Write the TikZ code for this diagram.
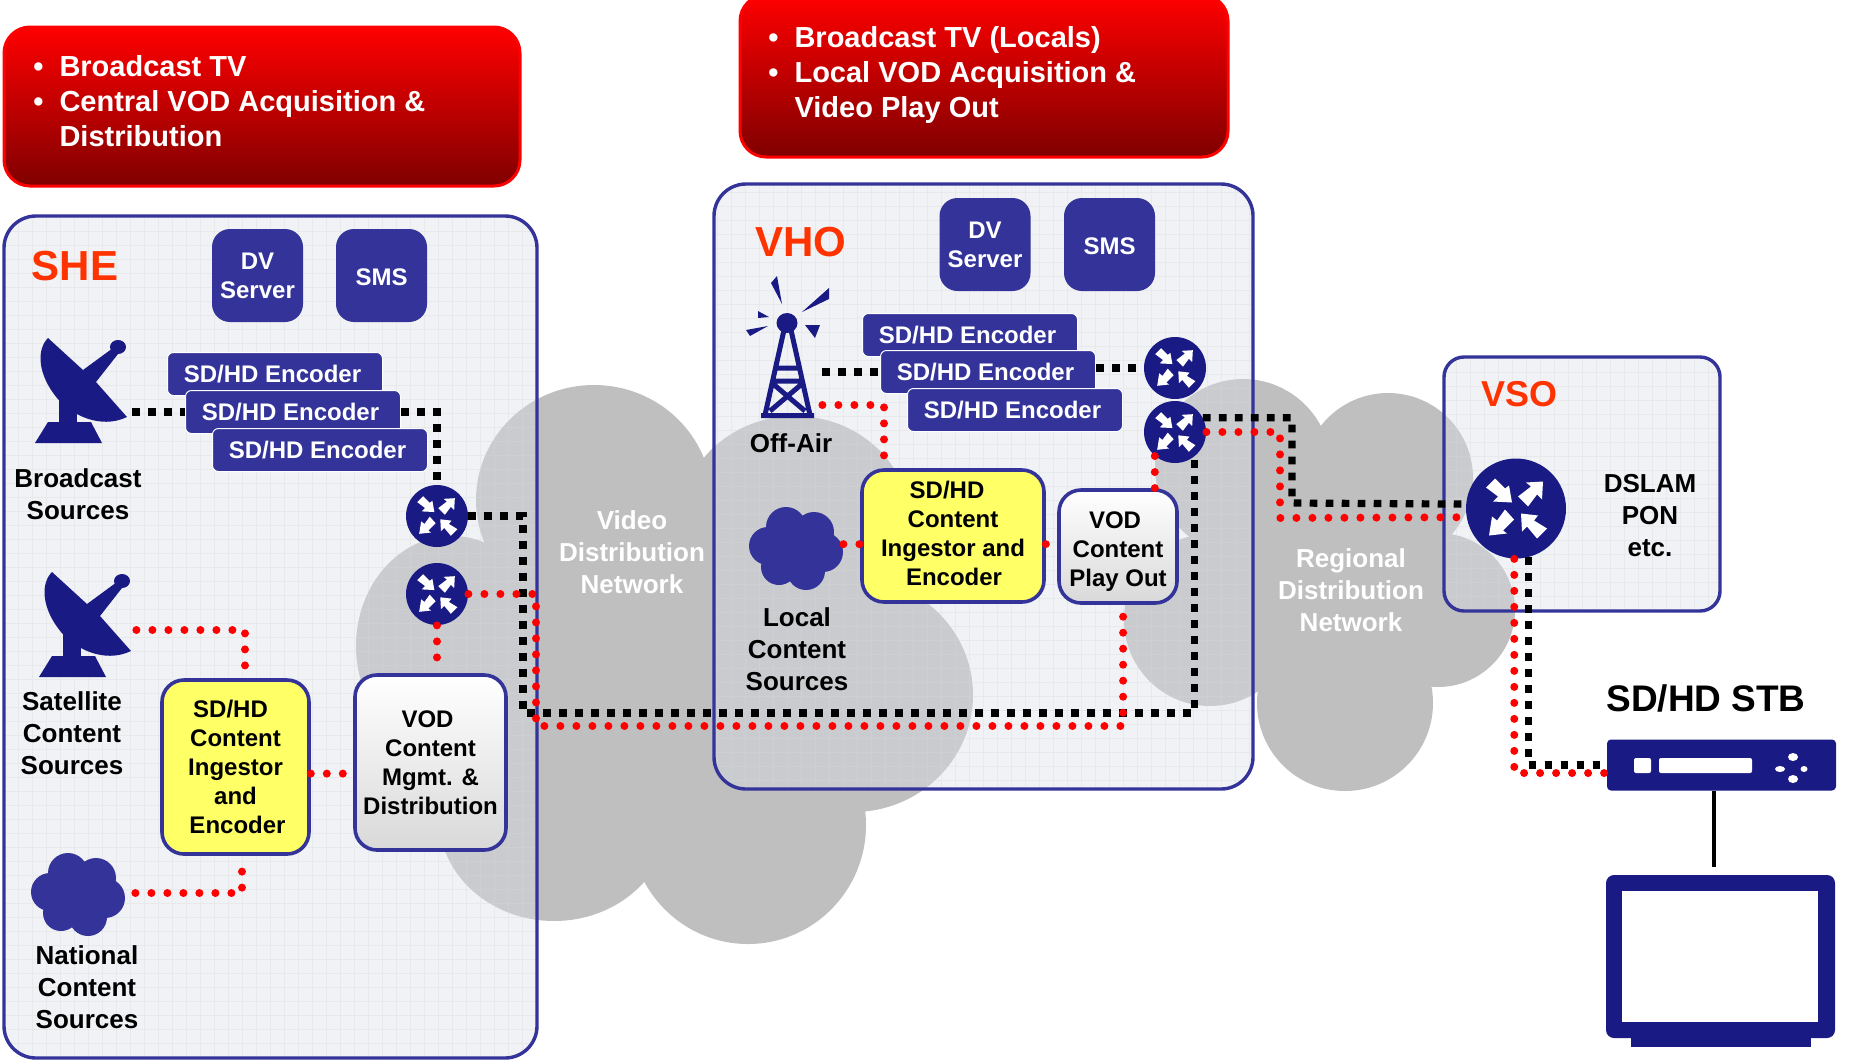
\documentclass[tikz,border=0pt]{standalone}
\usepackage{fontspec}
\setmainfont{Liberation Sans}
\usepackage{tikz}
\usetikzlibrary{shapes.geometric}

\definecolor{navy}{HTML}{1A1A85}
\definecolor{boxblue}{HTML}{333399}
\definecolor{cloudgray}{HTML}{BFBFBF}
\definecolor{panelfill}{RGB}{217,223,230}
\definecolor{hubred}{HTML}{FF3300}
\definecolor{ingestyellow}{HTML}{FFFF66}

\tikzset{
    panel/.style={draw=boxblue, line width=1.7pt, fill=panelfill, fill opacity=0.4, rounded corners=16pt,
        path picture={\draw[gray!30, draw opacity=0.35, line width=0.15pt, step=7pt] (path picture bounding box.south west) grid (path picture bounding box.north east);}},
    banner/.style={draw=red, line width=1.5pt, rounded corners=13pt, top color=red, middle color=red!88!black, bottom color=red!50!black},
    bannertxt/.style={text=white, align=left, anchor=west, inner sep=0pt, font=\bfseries\fontsize{14.5}{17.5}\selectfont},
    bluebox/.style={fill=boxblue, text=white, rounded corners=9pt, align=center, minimum width=45.5pt, minimum height=46.5pt, inner sep=0pt, font=\bfseries\fontsize{12}{14.5}\selectfont},
    encoder/.style={fill=boxblue, draw=white, line width=0.5pt, text=white, rounded corners=3pt, minimum width=107.5pt, minimum height=21.5pt, inner sep=0pt, execute at begin node={\kern-2.5pt}, font=\bfseries\fontsize{12}{14.5}\selectfont},
    ingest/.style={draw=boxblue, line width=1.8pt, fill=ingestyellow, rounded corners=11pt, align=center, inner sep=0pt, font=\bfseries\fontsize{12}{14.5}\selectfont},
    vodbox/.style={draw=boxblue, line width=1.8pt, top color=white, bottom color=gray!30, rounded corners=11pt, align=center, inner sep=0pt, font=\bfseries\fontsize{12}{14.5}\selectfont},
    router/.style={circle, fill=navy, inner sep=0pt, minimum size=31pt},
    icon/.style={inner sep=0pt},
    srctxt/.style={align=center, inner sep=0pt, font=\bfseries\fontsize{13}{16}\selectfont},
    nettxt/.style={srctxt, text=white},
    hubtxt/.style={text=hubred, inner sep=0pt, font=\bfseries\fontsize{21}{25}\selectfont},
    blackline/.style={line width=3.6pt, dash pattern=on 3.8pt off 4.2pt},
    redline/.style={red, line width=4pt, line cap=round, dash pattern=on 0pt off 8pt},
    rarrows/.pic={
        \fill[white] (-21,-30) -- (-11,-20) -- (-7,-23) -- (-4,-6) -- (-23,-7) -- (-18,-12) -- (-30,-21) -- cycle;
        \fill[white] (27,-27) -- (26,-9) -- (21,-14) -- (12,-2) -- (2,-12) -- (15,-22) -- (10,-26) -- cycle;
        \fill[white] (-27,27) -- (-24,8) -- (-19,12) -- (-11,1) -- (-2,11) -- (-13,22) -- (-9,25) -- cycle;
        \fill[white] (5,5) -- (22,7) -- (18,12) -- (31,20) -- (21,30) -- (11,18) -- (6,23) -- cycle;
    },
    satdish/.pic={
        \fill[navy] (-32,-52) .. controls (-44,-40) and (-42,-15) .. (-23,8) .. controls (-10,24) and (20,40) .. (47,27) -- (16,-8) -- (38,-36) -- (33,-42) -- (3,-20) -- cycle;
        \fill[navy] (38,-43) ellipse (8 and 7);
        \fill[navy] (-21,5) rectangle (-3,33);
        \fill[navy] (-32,32) -- (11,32) -- (22,53) -- (-45,53) -- cycle;
    },
    bluecloud/.pic={
        \foreach \cx/\cy/\cr in {-10/-21/20, 18/-16/20, 27/4/20, 10/23/19, -17/19/18, -28/-2/19, 0/0/26} {
            \fill[boxblue] (\cx,\cy) circle (\cr);
        }
    }
}

\begin{document}
\begin{tikzpicture}[x=0.5pt, y=-0.5pt]
    \useasboundingbox (0,0) rectangle (1850,1061);

    % network clouds
    \fill[cloudgray] (594,500) ellipse (118 and 115);
    \fill[cloudgray] (452,646) ellipse (96 and 110);
    \fill[cloudgray] (554,818) ellipse (115 and 103);
    \fill[cloudgray] (748,825) ellipse (118 and 119);
    \fill[cloudgray] (853,695) ellipse (120 and 117);
    \fill[cloudgray] (795,523) ellipse (115 and 107);
    \fill[cloudgray] (650,650) circle (170);

    \fill[cloudgray] (1243,467) circle (88);
    \fill[cloudgray] (1210,620) circle (86);
    \fill[cloudgray] (1345,703) circle (88);
    \fill[cloudgray] (1388,478) circle (85);
    \fill[cloudgray] (1438,610) circle (77);
    \fill[cloudgray] (1330,570) circle (120);

    \node[nettxt] (videonet) at (632,552) {Video\\Distribution\\Network};
    \node[nettxt] (regionnet) at (1351,590) {Regional\\Distribution\\Network};

    % sites
    \node[panel, minimum width=266.5pt, minimum height=421pt] (she) at (270.5,637) {};
    \node[panel, minimum width=269.5pt, minimum height=302.5pt] (vho) at (983.5,486.5) {};
    \node[panel, rounded corners=10pt, minimum width=138pt, minimum height=127pt] (vso) at (1582,484) {};

    \node[hubtxt] (shetxt) at (75,266) {SHE};
    \node[hubtxt] (vhotxt) at (801,242) {VHO};
    \node[hubtxt, font=\bfseries\fontsize{18}{22}\selectfont] (vsotxt) at (1519,394) {VSO};

    % banners
    \node[banner, minimum width=258pt, minimum height=79.5pt] (bannera) at (262,106.5) {};
    \node[banner, minimum width=244pt, minimum height=81pt] (bannerb) at (984,76) {};
    \node[bannertxt] (bannertxta) at (33,101) {\textbullet\hspace{8pt}Broadcast TV\\\textbullet\hspace{8pt}Central VOD Acquisition \&\\\hphantom{\textbullet}\hspace{8pt}Distribution};
    \node[bannertxt] (bannertxtb) at (768,74.5) {\textbullet\hspace{8pt}Broadcast TV (Locals)\\\textbullet\hspace{8pt}Local VOD Acquisition \&\\\hphantom{\textbullet}\hspace{8pt}Video Play Out};

    % SHE
    \node[bluebox] (dva) at (257.5,275.5) {DV\\Server};
    \node[bluebox] (smsa) at (381.5,275.5) {\rule{0pt}{10.4pt}SMS};
    \node[encoder] (enca1) at (275,374) {SD/HD Encoder};
    \node[encoder] (enca2) at (293,412) {SD/HD Encoder};
    \node[encoder] (enca3) at (320,450) {SD/HD Encoder};

    \node[icon, minimum width=52pt, minimum height=55pt] (bdish) at (80,390) {};
    \pic at (bdish) {satdish};
    \node[srctxt] (bdishtxt) at (78,494) {Broadcast\\Sources};
    \node[icon, minimum width=52pt, minimum height=55pt] (sdish) at (84,624) {};
    \pic at (sdish) {satdish};
    \node[srctxt] (sdishtxt) at (72,733) {Satellite\\Content\\Sources};
    \node[icon, minimum width=47pt, minimum height=41pt] (ncloud) at (78,894) {};
    \pic at (ncloud) {bluecloud};
    \node[srctxt] (ncloudtxt) at (87,987) {National\\Content\\Sources};

    \node[ingest, minimum width=73.5pt, minimum height=87pt] (inga) at (235.5,767) {SD/HD\hspace*{5pt}\\Content\hspace*{5pt}\\Ingestor\hspace*{3pt}\\and\hspace*{3pt}\\\hspace*{2pt}Encoder};
    \node[vodbox, minimum width=75.5pt, minimum height=87.5pt] (voda) at (430.5,762.5) {VOD\hspace*{3pt}\\Content\\Mgmt. \&\\Distribution};

    \node[router] (rta) at (437,516) {};
    \node[router] (rtb) at (437,594) {};

    % VHO
    \node[bluebox] (dvb) at (985,244.5) {DV\\Server};
    \node[bluebox] (smsb) at (1109.5,244.5) {\rule{0pt}{10.4pt}SMS};
    \node[encoder] (encb1) at (970,335) {SD/HD Encoder};
    \node[encoder] (encb2) at (988,372) {SD/HD Encoder};
    \node[encoder] (encb3) at (1015,410) {SD/HD Encoder};

    \node[icon, minimum width=35pt, minimum height=71pt] (tower) at (787,346) {};
    \fill[navy] (777,276) -- (771,283) -- (782,304) -- cycle;
    \fill[navy] (829,288) -- (829,299) -- (802,312) -- cycle;
    \fill[navy] (758,311) -- (769,317) -- (758,318) -- cycle;
    \fill[navy] (768,326) -- (746,330) -- (750,336) -- cycle;
    \fill[navy] (805,325) -- (820,325) -- (815,338) -- cycle;
    \fill[navy] (787,323) ellipse (10.5 and 10);
    \draw[navy, line width=2.5pt] (784,330) -- (765,415) (791,330) -- (810,415) (775,368) -- (800,368) (773,381) -- (802,381) (772,383) -- (805,411) (803,383) -- (770,411) (761,415.5) -- (814,415.5);
    \node[srctxt] (towertxt) at (791,443) {Off-Air};

    \node[icon, minimum width=47pt, minimum height=41pt] (lcloud) at (796,548) {};
    \pic at (lcloud) {bluecloud};
    \node[srctxt] (lcloudtxt) at (797,649) {Local\\Content\\Sources};

    \node[ingest, minimum width=91pt, minimum height=66pt] (ingb) at (953,536) {SD/HD\hspace*{6pt}\\Content\hspace*{6pt}\\Ingestor and\hspace*{2pt}\\\hspace*{1pt}Encoder\rule[-2.4pt]{0pt}{0pt}};
    \node[vodbox, minimum width=59pt, minimum height=56.5pt] (vodb) at (1118,546.5) {\rule{0pt}{13pt}VOD\hspace*{3pt}\\Content\\Play Out};

    \node[router] (rtc) at (1175,368) {};
    \node[router] (rtd) at (1175,432) {};

    % VSO
    \node[router, minimum size=50pt] (rte) at (1516,508.5) {};
    \node[srctxt] (dslamtxt) at (1650,516) {DSLAM\\PON\\etc.};

    \foreach \rt in {rta,rtb,rtc,rtd} {
        \pic[scale=0.66] at (\rt) {rarrows};
    }
    \pic at (rte) {rarrows};

    % home
    \node[srctxt, font=\bfseries\fontsize{18.5}{22}\selectfont] (stbtxt) at (1706,698) {SD/HD STB};
    \node[fill=navy, rounded corners=2pt, minimum width=114.5pt, minimum height=25.5pt, inner sep=0pt] (stb) at (1721.5,765) {};
    \fill[white, rounded corners=1pt] (1634,758) rectangle (1651,773);
    \fill[white, rounded corners=1pt] (1659,758) rectangle (1752,773);
    \fill[white] (1793,757) ellipse (5 and 4);
    \fill[white] (1793,779) ellipse (5 and 4);
    \fill[white] (1780,769) ellipse (5 and 3);
    \fill[white] (1804,769) ellipse (3.5 and 3);
    \node[fill=navy, minimum width=90pt, minimum height=5pt, inner sep=0pt] (tvfoot) at (1721,1042) {};
    \node[fill=navy, rounded corners=4pt, minimum width=114.5pt, minimum height=81.5pt, inner sep=0pt] (tv) at (1720.5,956.5) {};
    \node[fill=white, minimum width=98pt, minimum height=65.5pt, inner sep=0pt] (tvscreen) at (1720,956.5) {};
    \coordinate (ctv) at (1714,867);
    \draw[line width=2pt] (stb.south -| ctv) -- (ctv);

    % bends
    \coordinate (bda) at (523,713);
    \coordinate (bdb) at (1292,503);
    \coordinate (bdc) at (1280,518);
    \coordinate (bdd) at (884,405);
    \coordinate (bde) at (245,630);
    \coordinate (bdf) at (242,893);
    \coordinate (bdg) at (536,726);

    \draw[blackline] (bdish.east |- enca2.west) -- (enca2.west);
    \draw[blackline] (enca2.east) -| (rta.north);
    \draw[blackline] (rta.east) -| (bda) -| (rtd.-52);
    \draw[blackline] (rtd.27) -| (bdb) -- (rte.175);
    \draw[blackline] (rte.-76) |- (stb.west);
    \draw[blackline] (tower.east |- encb2.west) -- (encb2.west);
    \draw[blackline] (encb2.east |- rtc.west) -- (rtc.west);

    \draw[redline] (sdish.east |- bde) -- (bde) -- (bde |- inga.north);
    \draw[redline] ([xshift=5pt]ncloud.east |- bdf) -- (bdf) -- (bdf |- inga.south);
    \draw[redline] (inga.-5) -- (voda.west |- inga.-5);
    \draw[redline] (rtb.south) -- (rtb.south |- voda.north);
    \draw[redline] (rtb.east) -| (bdg) -| (vodb.-85);
    \draw[redline] (tower.east |- bdd) -- (bdd) -- (bdd |- ingb.north);
    \draw[redline] (lcloud.east |- ingb.185) -- (ingb.185);
    \draw[redline] (ingb.-5) -- (vodb.west |- ingb.-5);
    \draw[redline] (rtd.-130) -- (rtd.-130 |- vodb.north);
    \draw[redline] (rtd.east) -| (bdc) -- (rte.190);
    \draw[redline] (rte.-92) |- (stb.184);
\end{tikzpicture}
\end{document}
